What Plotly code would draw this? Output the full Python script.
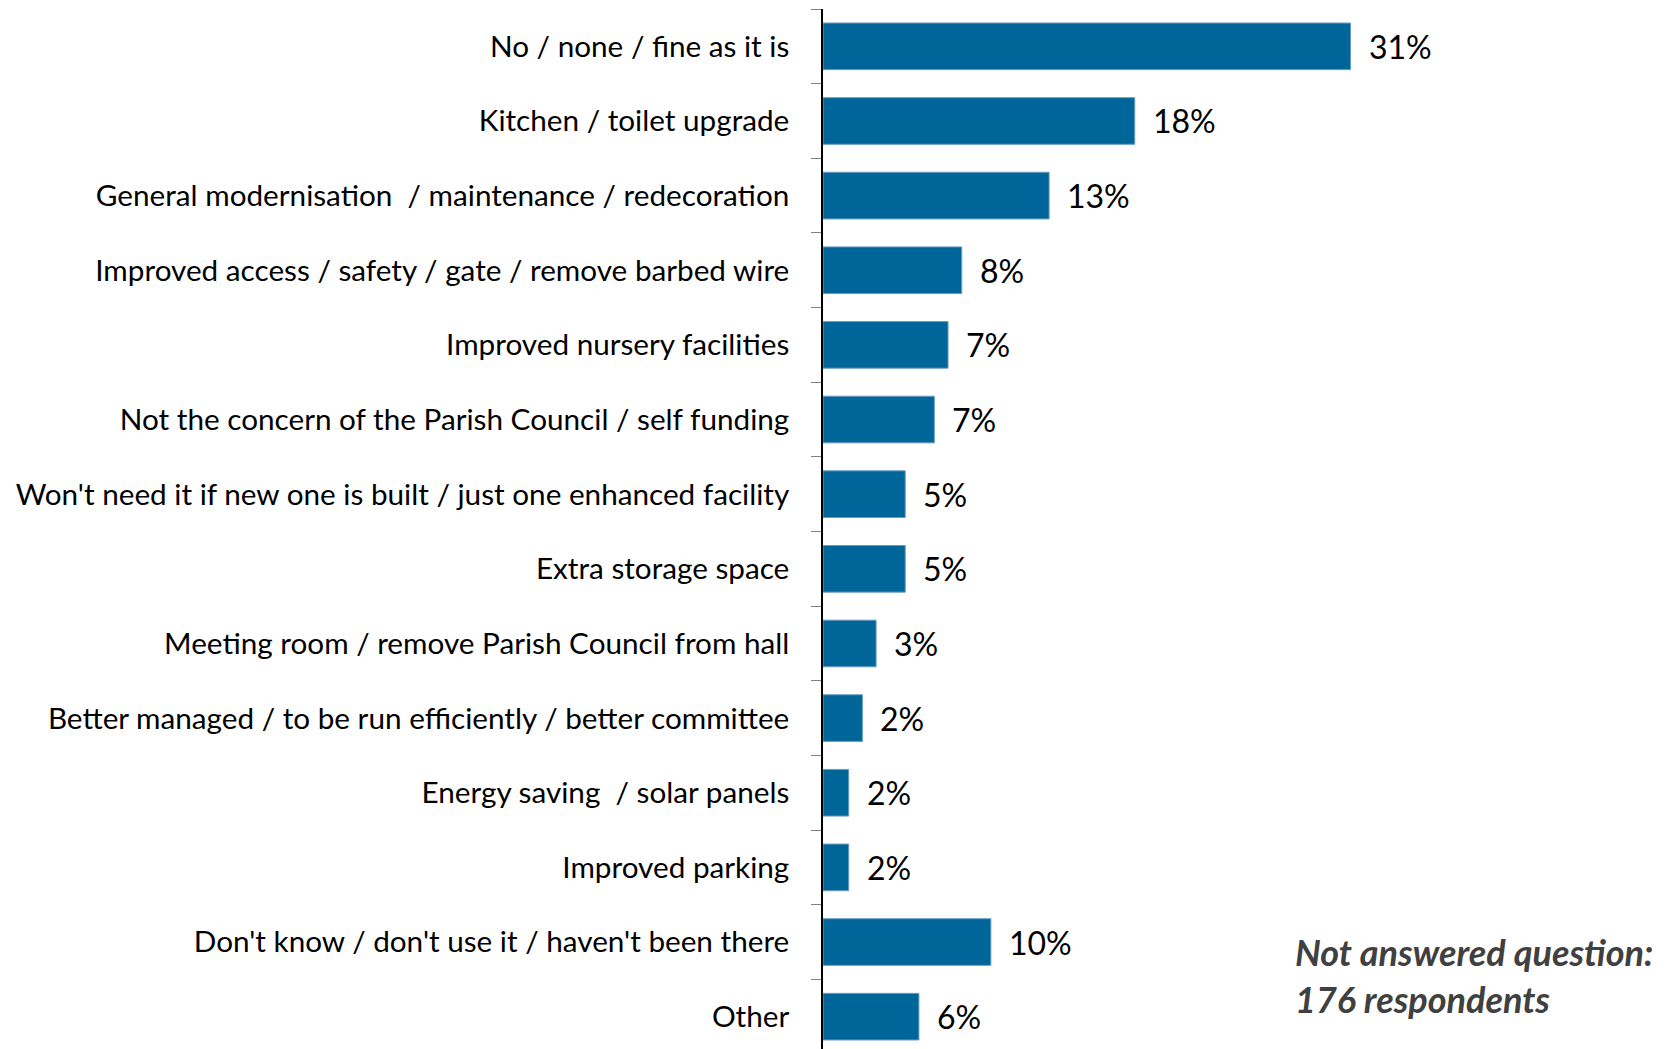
import plotly.graph_objects as go

categories = [
    "No / none / fine as it is",
    "Kitchen / toilet upgrade",
    "General modernisation  / maintenance / redecoration",
    "Improved access / safety / gate / remove barbed wire",
    "Improved nursery facilities",
    "Not the concern of the Parish Council / self funding",
    "Won't need it if new one is built / just one enhanced facility",
    "Extra storage space",
    "Meeting room / remove Parish Council from hall",
    "Better managed / to be run efficiently / better committee",
    "Energy saving  / solar panels",
    "Improved parking",
    "Don't know / don't use it / haven't been there",
    "Other",
]
values = [30.8, 18.2, 13.2, 8.1, 7.3, 6.5, 4.8, 4.8, 3.1, 2.3, 1.5, 1.5, 9.8, 5.6]
value_labels = ["31%", "18%", "13%", "8%", "7%", "7%", "5%", "5%", "3%", "2%", "2%", "2%", "10%", "6%"]

BAR_COLOR = "#006699"
FONT = "Lato"

fig = go.Figure()

fig.add_trace(
    go.Bar(
        x=values,
        y=categories,
        orientation="h",
        marker=dict(color=BAR_COLOR, line=dict(color="#6a9cc0", width=1)),
        hoverinfo="skip",
    )
)

# value labels next to bar ends
for cat, v, lab in zip(categories, values, value_labels):
    fig.add_annotation(
        x=v, y=cat, text=lab, showarrow=False,
        xanchor="left", xshift=16, yshift=0,
        font=dict(family=FONT, size=32, color="black"),
    )

fig.add_annotation(
    x=0.551, y=0.075, xref="paper", yref="paper",
    text="<b><i>Not answered question:<br>176 respondents</i></b>",
    showarrow=False, xanchor="left", yanchor="middle", align="left",
    font=dict(family=FONT, size=36, color="#404040"),
)

fig.update_yaxes(
    autorange="reversed",
    showline=True, linecolor="black", linewidth=1.5,
    ticks="outside", tickson="boundaries", ticklen=10, tickcolor="#808080",
    ticklabelstandoff=26,
    tickfont=dict(family=FONT, size=29.7, color="black"),
    showgrid=False,
)
fig.update_xaxes(
    range=[0, 49.8], visible=False, showgrid=False,
)

fig.update_layout(
    width=1668, height=1049,
    margin=dict(l=815, r=0, t=1, b=3),
    bargap=0.375,
    plot_bgcolor="white", paper_bgcolor="white",
    showlegend=False,
)

fig.write_html("out.html")
